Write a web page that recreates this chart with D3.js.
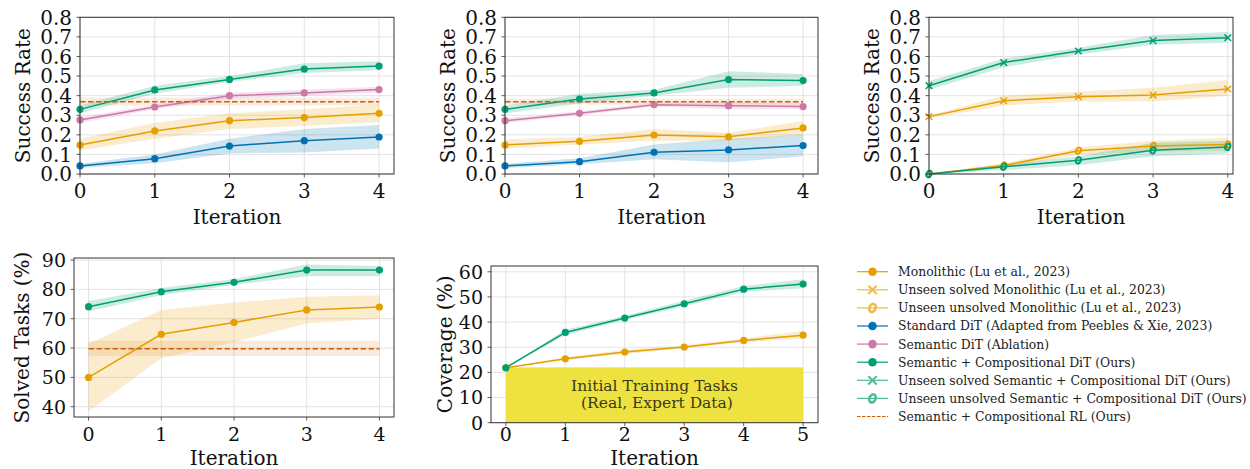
<!DOCTYPE html>
<html><head><meta charset="utf-8">
<script src="https://cdn.jsdelivr.net/npm/d3@7"></script>
<style>
body{margin:0;background:#fff;}
text{font-family:"DejaVu Serif",serif;}
</style></head><body>
<svg id="c" width="1250" height="469"></svg>
<script>
// ---------- data ----------
const iters = [0, 1, 2, 3, 4];
const iters5 = [0, 1, 2, 3, 4, 5];

// Panel A (top-left)
const monoA = [0.148, 0.220, 0.272, 0.288, 0.310];
const monoA_lo = [0.120, 0.180, 0.230, 0.245, 0.265];
const monoA_hi = [0.180, 0.260, 0.310, 0.330, 0.355];
const stdA = [0.041, 0.078, 0.143, 0.170, 0.189];
const stdA_lo = [0.030, 0.055, 0.105, 0.110, 0.130];
const stdA_hi = [0.052, 0.100, 0.180, 0.230, 0.250];
const semA = [0.276, 0.342, 0.400, 0.414, 0.431];
const semA_lo = [0.260, 0.330, 0.385, 0.400, 0.415];
const semA_hi = [0.290, 0.355, 0.415, 0.430, 0.445];
const compA = [0.330, 0.429, 0.483, 0.536, 0.551];
const compA_lo = [0.310, 0.410, 0.470, 0.515, 0.530];
const compA_hi = [0.350, 0.450, 0.500, 0.565, 0.575];
const rlA = [0.369, 0.350, 0.390]; // mean, lo, hi

// Panel B (top-middle)
const monoB = [0.148, 0.167, 0.199, 0.190, 0.235];
const monoB_lo = [0.130, 0.150, 0.170, 0.170, 0.200];
const monoB_hi = [0.175, 0.190, 0.230, 0.210, 0.270];
const stdB = [0.041, 0.063, 0.111, 0.123, 0.145];
const stdB_lo = [0.030, 0.050, 0.075, 0.060, 0.090];
const stdB_hi = [0.052, 0.080, 0.150, 0.180, 0.200];
const semB = [0.272, 0.310, 0.354, 0.349, 0.344];
const semB_lo = [0.260, 0.300, 0.345, 0.330, 0.330];
const semB_hi = [0.285, 0.320, 0.365, 0.365, 0.360];
const compB = [0.330, 0.383, 0.414, 0.482, 0.477];
const compB_lo = [0.310, 0.360, 0.400, 0.440, 0.450];
const compB_hi = [0.350, 0.410, 0.430, 0.525, 0.510];
const rlB = [0.369, 0.355, 0.385];

// Panel C (top-right)
const solvedMonoC = [0.293, 0.374, 0.395, 0.403, 0.434];
const solvedMonoC_lo = [0.285, 0.350, 0.370, 0.370, 0.400];
const solvedMonoC_hi = [0.300, 0.400, 0.420, 0.440, 0.480];
const solvedCompC = [0.451, 0.569, 0.628, 0.681, 0.696];
const solvedCompC_lo = [0.430, 0.545, 0.610, 0.660, 0.670];
const solvedCompC_hi = [0.475, 0.590, 0.645, 0.710, 0.725];
const unsolvedMonoC = [0.000, 0.043, 0.119, 0.143, 0.150];
const unsolvedMonoC_lo = [0.000, 0.030, 0.100, 0.115, 0.120];
const unsolvedMonoC_hi = [0.000, 0.055, 0.135, 0.170, 0.185];
const unsolvedCompC = [0.000, 0.037, 0.070, 0.121, 0.138];
const unsolvedCompC_lo = [0.000, 0.020, 0.045, 0.090, 0.105];
const unsolvedCompC_hi = [0.000, 0.050, 0.090, 0.160, 0.170];

// Panel D (bottom-left)
const compD = [74.1, 79.2, 82.4, 86.6, 86.6];
const compD_lo = [72.5, 78.0, 81.5, 84.5, 84.5];
const compD_hi = [76.0, 80.5, 83.5, 88.5, 88.0];
const monoD = [50.0, 64.7, 68.75, 73.0, 74.0];
const monoD_lo = [38.5, 56.5, 62.0, 68.5, 70.0];
const monoD_hi = [61.5, 73.0, 75.5, 77.5, 78.0];
const rlD = [59.8, 57.3, 62.5];

// Panel E (bottom-middle)
const compE = [21.85, 35.9, 41.6, 47.3, 53.1, 55.1];
const compE_lo = [21.85, 34.8, 40.8, 46.3, 52.0, 53.5];
const compE_hi = [21.85, 37.0, 42.5, 48.5, 54.3, 57.0];
const monoE = [21.85, 25.4, 28.1, 30.1, 32.7, 34.8];
const monoE_lo = [21.85, 24.8, 27.3, 29.5, 32.0, 33.5];
const monoE_hi = [21.85, 26.0, 29.0, 30.8, 33.5, 36.5];
const initialTasks = 22;
const initialLabel = ["Initial Training Tasks", " (Real, Expert Data)"];

const yTicksSR = [0, 0.1, 0.2, 0.3, 0.4, 0.5, 0.6, 0.7, 0.8];
const yTicksD = [40, 50, 60, 70, 80, 90];
const yTicksE = [0, 10, 20, 30, 40, 50, 60];

const legendLabels = [
  "Monolithic (Lu et al., 2023)",
  "Unseen solved Monolithic (Lu et al., 2023)",
  "Unseen unsolved Monolithic (Lu et al., 2023)",
  "Standard DiT (Adapted from Peebles & Xie, 2023)",
  "Semantic DiT (Ablation)",
  "Semantic + Compositional DiT (Ours)",
  "Unseen solved Semantic + Compositional DiT (Ours)",
  "Unseen unsolved Semantic + Compositional DiT (Ours)",
  "Semantic + Compositional RL (Ours)"
];

// ---------- styles ----------
const C = {orange:"#E69F00", blue:"#0072B2", pink:"#CC79A7", green:"#009E73", red:"#D55E00", yellow:"#EEE241"};
const svg = d3.select("#c");

function drawMarker(g, type, x, y, color, r, sw) {
  if (type === "dot") {
    g.append("circle").attr("cx", x).attr("cy", y).attr("r", r).attr("fill", color);
  } else if (type === "x") {
    const s = r;
    g.append("path").attr("d", `M${x-s},${y-s}L${x+s},${y+s}M${x-s},${y+s}L${x+s},${y-s}`)
      .attr("stroke", color).attr("stroke-width", sw || 1.5).attr("fill", "none");
  } else if (type === "o") {
    g.append("ellipse").attr("cx", x).attr("cy", y).attr("rx", r*0.72).attr("ry", r)
      .attr("transform", `rotate(25,${x},${y})`)
      .attr("stroke", color).attr("stroke-width", sw || 2).attr("fill", "none");
  }
}

function panel(cfg) {
  const {x0, x1, y0, y1, xdom, ydom, xticks, yticks, yfmt, ylabel, ylabelX, xlabelY, tickFont, xtickBase, series, hlines} = cfg;
  const x = d3.scaleLinear().domain(xdom).range([x0, x1]);
  const y = d3.scaleLinear().domain(ydom).range([y1, y0]);
  const g = svg.append("g");
  // grid
  g.selectAll(".gx").data(xticks).enter().append("line")
    .attr("x1", d => x(d)).attr("x2", d => x(d)).attr("y1", y0).attr("y2", y1)
    .attr("stroke", "#e3e3e3").attr("stroke-width", 1);
  g.selectAll(".gy").data(yticks).enter().append("line")
    .attr("x1", x0).attr("x2", x1).attr("y1", d => y(d)).attr("y2", d => y(d))
    .attr("stroke", "#e3e3e3").attr("stroke-width", 1);
  if (cfg.extra) cfg.extra(g, x, y);
  // bands
  const area = (xs) => d3.area().x((d, i) => x(xs[i])).y0(d => y(d[0])).y1(d => y(d[1]));
  (hlines || []).forEach(h => {
    g.append("rect").attr("x", x(h.from)).attr("width", x(h.to) - x(h.from))
      .attr("y", y(h.v[2])).attr("height", y(h.v[1]) - y(h.v[2]))
      .attr("fill", h.color).attr("opacity", 0.12);
  });
  series.forEach(s => {
    const pts = s.lo.map((l, i) => [l, s.hi[i]]);
    g.append("path").datum(pts).attr("d", area(s.xs)).attr("fill", s.color).attr("opacity", 0.2);
  });
  series.forEach(s => {
    const line = d3.line().x((d, i) => x(s.xs[i])).y(d => y(d));
    g.append("path").datum(s.v).attr("d", line).attr("fill", "none")
      .attr("stroke", s.color).attr("stroke-width", 1.5);
    s.v.forEach((v, i) => drawMarker(g, s.marker, x(s.xs[i]), y(v), s.color, s.marker === "dot" ? 3.6 : 3.3));
  });
  (hlines || []).forEach(h => {
    g.append("line").attr("x1", x(h.from)).attr("x2", x(h.to)).attr("y1", y(h.v[0])).attr("y2", y(h.v[0]))
      .attr("stroke", h.color).attr("stroke-width", 1.5).attr("stroke-dasharray", "5.5,2.5");
  });
  // frame
  g.append("rect").attr("x", x0).attr("y", y0).attr("width", x1 - x0).attr("height", y1 - y0)
    .attr("fill", "none").attr("stroke", "#333").attr("stroke-width", 1);
  // ticks
  g.selectAll(".tx").data(xticks).enter().append("line")
    .attr("x1", d => x(d)).attr("x2", d => x(d)).attr("y1", y1).attr("y2", y1 + 3.5)
    .attr("stroke", "#333").attr("stroke-width", 0.8);
  g.selectAll(".ty").data(yticks).enter().append("line")
    .attr("x1", x0 - 3.5).attr("x2", x0).attr("y1", d => y(d)).attr("y2", d => y(d))
    .attr("stroke", "#333").attr("stroke-width", 0.8);
  g.selectAll(".lx").data(xticks).enter().append("text")
    .attr("x", d => x(d)).attr("y", xtickBase).attr("text-anchor", "middle")
    .attr("font-size", tickFont).attr("fill", "#111").text(d => d);
  g.selectAll(".ly").data(yticks).enter().append("text")
    .attr("x", x0 - 8).attr("y", d => y(d)).attr("dy", "0.36em").attr("text-anchor", "end")
    .attr("font-size", tickFont).attr("fill", "#111").text(yfmt);
  g.append("text").attr("x", (x0 + x1) / 2).attr("y", xlabelY).attr("text-anchor", "middle")
    .attr("font-size", 20).attr("fill", "#111").text("Iteration");
  g.append("text").attr("transform", `translate(${ylabelX},${(y0 + y1) / 2}) rotate(-90)`)
    .attr("text-anchor", "middle").attr("font-size", 20).attr("fill", "#111").text(ylabel);
}

const f1 = d3.format(".1f");
const fi = d3.format("d");
const mk = (xs, v, lo, hi, color, marker) => ({xs, v, lo, hi, color, marker});

panel({x0: 80, x1: 394, y0: 17.3, y1: 174, xdom: [0, 4.2], ydom: [0, 0.8], xticks: iters, yticks: yTicksSR,
  yfmt: f1, ylabel: "Success Rate", ylabelX: 30, xlabelY: 224, tickFont: 20, xtickBase: 198,
  series: [mk(iters, stdA, stdA_lo, stdA_hi, C.blue, "dot"), mk(iters, monoA, monoA_lo, monoA_hi, C.orange, "dot"),
           mk(iters, semA, semA_lo, semA_hi, C.pink, "dot"), mk(iters, compA, compA_lo, compA_hi, C.green, "dot")],
  hlines: [{v: rlA, from: 0, to: 4, color: C.red}]});

panel({x0: 505, x1: 818, y0: 17.3, y1: 174, xdom: [0, 4.2], ydom: [0, 0.8], xticks: iters, yticks: yTicksSR,
  yfmt: f1, ylabel: "Success Rate", ylabelX: 455, xlabelY: 224, tickFont: 20, xtickBase: 198,
  series: [mk(iters, stdB, stdB_lo, stdB_hi, C.blue, "dot"), mk(iters, monoB, monoB_lo, monoB_hi, C.orange, "dot"),
           mk(iters, semB, semB_lo, semB_hi, C.pink, "dot"), mk(iters, compB, compB_lo, compB_hi, C.green, "dot")],
  hlines: [{v: rlB, from: 0, to: 4, color: C.red}]});

panel({x0: 929, x1: 1233, y0: 17.3, y1: 174, xdom: [0, 4.07], ydom: [0, 0.8], xticks: iters, yticks: yTicksSR,
  yfmt: f1, ylabel: "Success Rate", ylabelX: 879, xlabelY: 224, tickFont: 20, xtickBase: 198,
  series: [mk(iters, solvedMonoC, solvedMonoC_lo, solvedMonoC_hi, C.orange, "x"),
           mk(iters, solvedCompC, solvedCompC_lo, solvedCompC_hi, C.green, "x"),
           mk(iters, unsolvedMonoC, unsolvedMonoC_lo, unsolvedMonoC_hi, C.orange, "o"),
           mk(iters, unsolvedCompC, unsolvedCompC_lo, unsolvedCompC_hi, C.green, "o")]});

panel({x0: 74, x1: 394, y0: 258, y1: 417, xdom: [-0.2, 4.2], ydom: [36.5, 90.7], xticks: iters, yticks: yTicksD,
  yfmt: fi, ylabel: "Solved Tasks (%)", ylabelX: 29, xlabelY: 464.5, tickFont: 19, xtickBase: 440.5,
  series: [mk(iters, monoD, monoD_lo, monoD_hi, C.orange, "dot"), mk(iters, compD, compD_lo, compD_hi, C.green, "dot")],
  hlines: [{v: rlD, from: 0, to: 4, color: C.red}]});

panel({x0: 491, x1: 818, y0: 266, y1: 422.7, xdom: [-0.25, 5.25], ydom: [0, 62.3], xticks: iters5, yticks: yTicksE,
  yfmt: fi, ylabel: "Coverage (%)", ylabelX: 452, xlabelY: 464.5, tickFont: 19, xtickBase: 440.5,
  series: [mk(iters5, monoE, monoE_lo, monoE_hi, C.orange, "dot"), mk(iters5, compE, compE_lo, compE_hi, C.green, "dot")],
  extra: (g, x, y) => {
    g.append("rect").attr("x", x(0)).attr("width", x(5) - x(0)).attr("y", y(initialTasks))
      .attr("height", y(0) - y(initialTasks)).attr("fill", C.yellow);
    initialLabel.forEach((t, i) => {
      g.append("text").attr("x", x(2.5)).attr("y", 391 + i * 17).attr("text-anchor", "middle")
        .attr("font-size", 15.5).attr("fill", "#3b3915").attr("xml:space", "preserve").style("white-space", "pre").text(t);
    });
  }});

// ---------- legend ----------
const legendSpec = [
  {color: C.orange, marker: "dot", op: 1},
  {color: C.orange, marker: "x", op: 0.7},
  {color: C.orange, marker: "o", op: 0.7},
  {color: C.blue, marker: "dot", op: 1},
  {color: C.pink, marker: "dot", op: 1},
  {color: C.green, marker: "dot", op: 1},
  {color: C.green, marker: "x", op: 0.7},
  {color: C.green, marker: "o", op: 0.7},
  {color: C.red, marker: "dash", op: 1}
];
const lg = svg.append("g");
legendLabels.forEach((t, i) => {
  const yy = 271.7 + i * 18.1;
  const s = legendSpec[i];
  const gi = lg.append("g").attr("opacity", s.op);
  if (s.marker === "dash") {
    gi.append("line").attr("x1", 857).attr("x2", 888).attr("y1", yy).attr("y2", yy)
      .attr("stroke", s.color).attr("stroke-width", 1).attr("stroke-dasharray", "3.5,1.5");
  } else {
    gi.append("line").attr("x1", 857).attr("x2", 888).attr("y1", yy).attr("y2", yy)
      .attr("stroke", s.color).attr("stroke-width", 1.2);
    drawMarker(gi, s.marker, 872.5, yy, s.color, s.marker === "dot" ? 4.3 : 4.2, s.marker === "x" ? 2 : 2.6);
  }
  lg.append("text").attr("x", 898).attr("y", yy).attr("dy", "0.36em").attr("font-size", 12.4)
    .attr("fill", "#222").text(t);
});
</script></body></html>
